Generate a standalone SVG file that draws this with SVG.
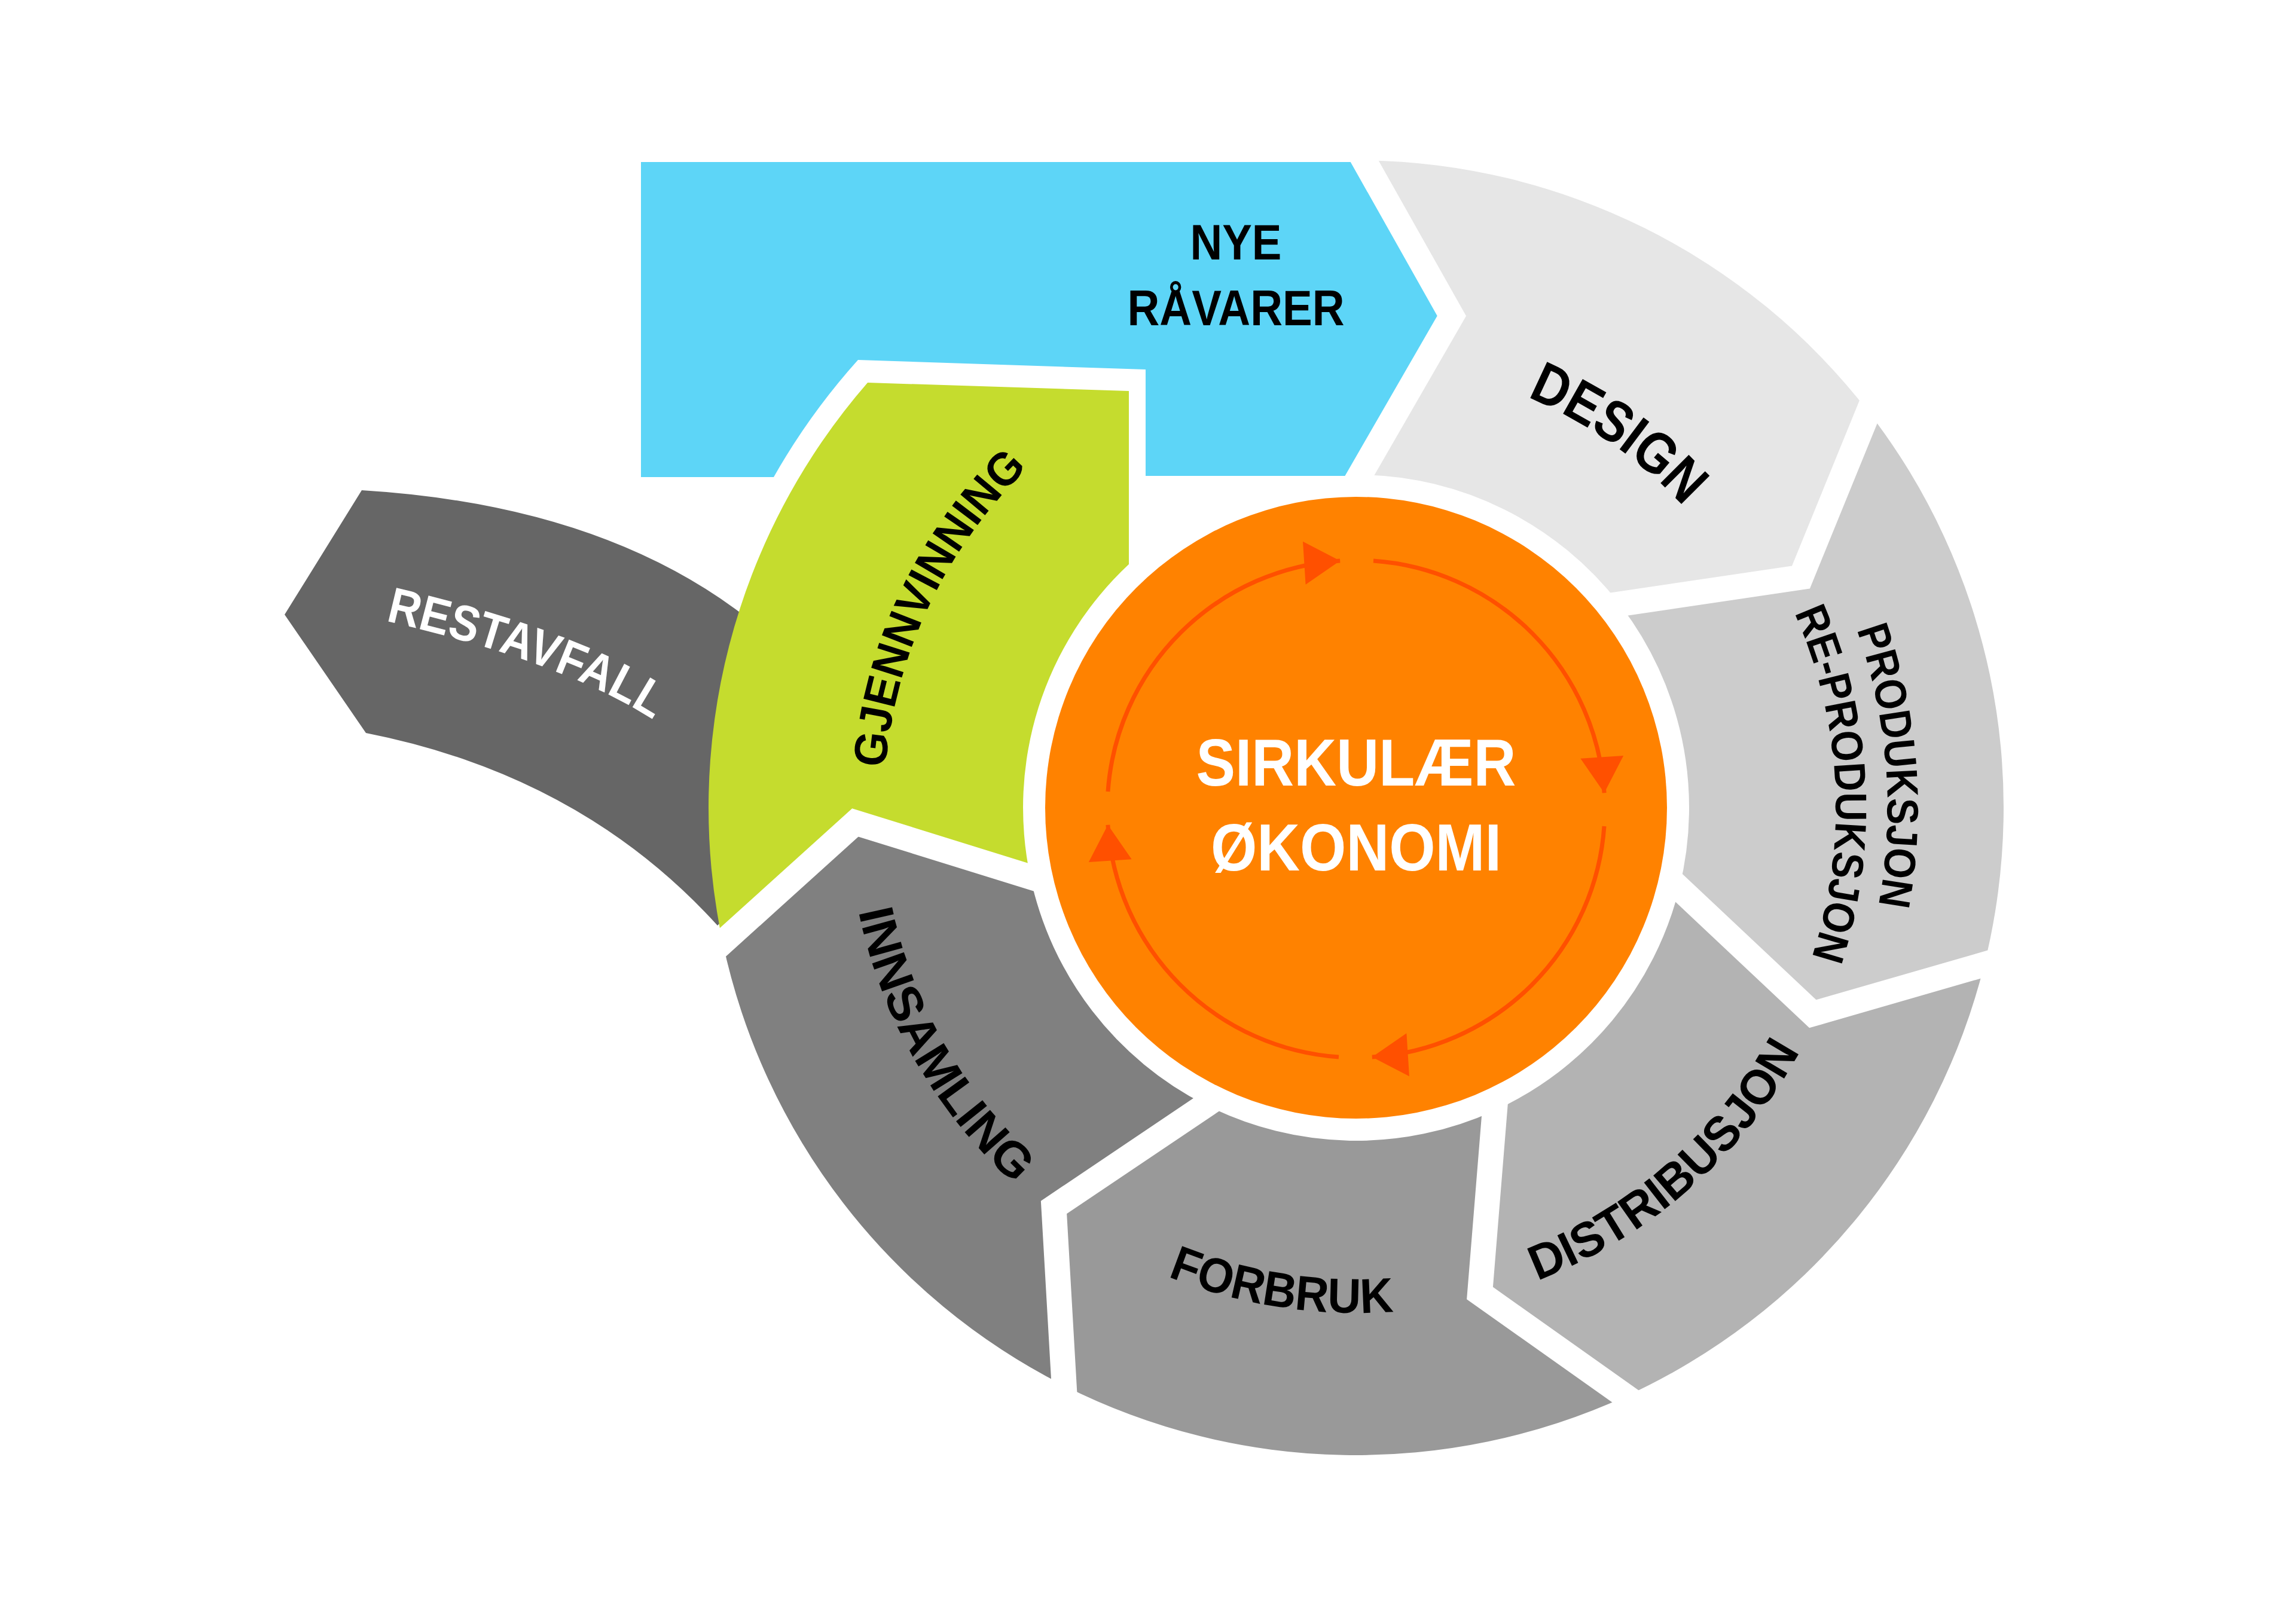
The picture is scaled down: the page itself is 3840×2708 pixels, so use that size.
<svg xmlns="http://www.w3.org/2000/svg" xmlns:xlink="http://www.w3.org/1999/xlink" width="3840" height="2708" viewBox="0 0 3840 2708">
  <style>
    .lbl { font-family: "Liberation Sans", Arial, sans-serif; font-weight: bold; fill: #000; }
    .wht { fill: #fff; }
    .sep { fill: none; stroke: #fff; stroke-width: 42; stroke-linejoin: miter; stroke-miterlimit: 10; }
    .cyc { fill: none; stroke: #FF5000; stroke-width: 7; marker-end: url(#ah); }
  </style>
  <defs>
    <marker id="ah" markerUnits="userSpaceOnUse" markerWidth="200" markerHeight="200" refX="0" refY="0" orient="auto" overflow="visible">
      <path d="M0,0 L-60,-36 L-60,36 Z" fill="#FF5000"/>
    </marker>
    <path id="pDesign" d="M2397.2,618.3 A744,744 0 0 1 2912.3,979"/>
    <path id="pProd" d="M3000.6,847.5 A891,891 0 0 1 3070.4,1733.7"/>
    <path id="pReprod" d="M2941.4,915.4 A800,800 0 0 1 2981.9,1716.3"/>
    <path id="pDist" d="M2431.1,2182.2 A847,847 0 0 0 3069.3,1625.4"/>
    <path id="pForb" d="M1738.5,2009.5 A845,845 0 0 0 2573.6,2138.8"/>
    <path id="pInns" d="M1418,1348 A850,850 0 0 0 1840.4,2085.6"/>
    <path id="pGjen" d="M1489.1,1482.7 A790,790 0 0 1 1877.8,664.1"/>
    <path id="pRest" d="M643,1038 Q943,1107 1094,1205"/>
  </defs>
  <rect width="3840" height="2708" fill="#fff"/>

  <g id="restavfall">
    <path d="M605,820 Q996,844 1237,1024 L1330,1110 L1330,1420 L1200,1548 Q972,1297 612,1226 L476,1028 Z" fill="#666666"/>
  </g>
  <g id="nye-ravarer">
    <path d="M1072,271 L2281.2,271 L2427.9,528.4 L2274.8,796 L1916,796 L1916,618 L1435,602 A1120,1120 0 0 0 1294,798 L1072,798 Z" fill="#5DD5F7"/>
  </g>
  <g id="design">
    <path d="M2274.8,794.0 L2427.9,528.4 L2281.2,268.1 A1083,1083 0 0 1 3124.9,688.7 L3012.0,965.4 L2708.7,1010.4 A557,557 0 0 0 2274.8,794.0 Z" fill="#E6E6E6"/>
  </g>
  <g id="produksjon">
    <path d="M2708.7,1010.4 L3012.0,965.4 L3124.9,688.7 A1083,1083 0 0 1 3318.8,1613.0 L3031.8,1695.8 L2808.5,1485.7 A557,557 0 0 0 2708.7,1010.4 Z" fill="#CCCCCC"/>
  </g>
  <g id="distribusjon">
    <path d="M2808.5,1485.7 L3031.8,1695.8 L3318.8,1613.0 A1083,1083 0 0 1 2718.8,2335.7 L2475.0,2163.0 L2499.9,1857.4 A557,557 0 0 0 2808.5,1485.7 Z" fill="#B3B3B3"/>
  </g>
  <g id="forbruk">
    <path d="M2499.9,1857.4 L2475.0,2163.0 L2718.8,2335.7 A1083,1083 0 0 1 1779.7,2317.7 L1762.5,2019.4 L2016.8,1848.2 A557,557 0 0 0 2499.9,1857.4 Z" fill="#999999"/>
  </g>
  <g id="innsamling">
    <path d="M2016.8,1848.2 L1762.5,2019.4 L1779.7,2317.7 A1083,1083 0 0 1 1208.7,1576.2 L1430.4,1375.9 L1723.2,1466.8 A557,557 0 0 0 2016.8,1848.2 Z" fill="#808080"/>
  </g>
  <g id="gjennvinning">
    <path d="M1723.2,1466.8 L1430.4,1375.9 L1208.7,1576.2 A1083,1083 0 0 1 1451.1,640 L1888,654 L1888,943.8 A557,557 0 0 0 1723.2,1466.8 Z" fill="#C5DC2E"/>
  </g>

  <g id="connectors">
    <polyline class="sep" points="2254.8,828.7 2427.9,528.4 2261.6,233.3"/>
    <polyline class="sep" points="2669.1,1016.3 3012.0,965.4 3140.0,651.7"/>
    <polyline class="sep" points="2779.4,1458.3 3031.8,1695.8 3357.2,1601.9"/>
    <polyline class="sep" points="2503.1,1817.5 2475.0,2163.0 2751.4,2358.8"/>
    <polyline class="sep" points="2050.0,1825.9 1762.5,2019.4 1782.0,2357.6"/>
    <polyline class="sep" points="1761.4,1478.7 1430.4,1375.9 1193.9,1589.6"/>
  </g>

  <g id="sirkulaer-okonomi">
    <circle cx="2268" cy="1351" r="520" fill="#FF8200"/>
    <path class="cyc" d="M1853.0,1324.0 A416,416 0 0 1 2241.2,937.9"/>
    <path class="cyc" d="M2297.0,938.0 A416,416 0 0 1 2683.1,1326.2"/>
    <path class="cyc" d="M2683.0,1382.0 A416,416 0 0 1 2294.8,1768.1"/>
    <path class="cyc" d="M2239.0,1768.0 A416,416 0 0 1 1852.9,1379.8"/>
    <text class="lbl wht" x="2268" y="1314" font-size="112" text-anchor="middle" textLength="535" lengthAdjust="spacingAndGlyphs">SIRKULÆR</text>
    <text class="lbl wht" x="2268" y="1456" font-size="112" text-anchor="middle" textLength="486" lengthAdjust="spacingAndGlyphs">ØKONOMI</text>
  </g>

  <g id="labels">
    <text class="lbl" x="2067" y="434" font-size="84" text-anchor="middle" textLength="153" lengthAdjust="spacingAndGlyphs">NYE</text>
    <text class="lbl" x="2067" y="544" font-size="84" text-anchor="middle" textLength="363" lengthAdjust="spacingAndGlyphs">RÅVARER</text>
    <text class="lbl" font-size="97" text-anchor="middle"><textPath xlink:href="#pDesign" href="#pDesign" startOffset="50%" textLength="322" lengthAdjust="spacingAndGlyphs">DESIGN</textPath></text>
    <text class="lbl" font-size="74" text-anchor="middle"><textPath xlink:href="#pProd" href="#pProd" startOffset="50%" textLength="468" lengthAdjust="spacingAndGlyphs">PRODUKSJON</textPath></text>
    <text class="lbl" font-size="74" text-anchor="middle"><textPath xlink:href="#pReprod" href="#pReprod" startOffset="50%" textLength="590" lengthAdjust="spacingAndGlyphs">RE-PRODUKSJON</textPath></text>
    <text class="lbl" font-size="82" text-anchor="middle"><textPath xlink:href="#pDist" href="#pDist" startOffset="50%" textLength="595" lengthAdjust="spacingAndGlyphs">DISTRIBUSJON</textPath></text>
    <text class="lbl" font-size="82" text-anchor="middle"><textPath xlink:href="#pForb" href="#pForb" startOffset="50%" textLength="386" lengthAdjust="spacingAndGlyphs">FORBRUK</textPath></text>
    <text class="lbl" font-size="82" text-anchor="middle"><textPath xlink:href="#pInns" href="#pInns" startOffset="50%" textLength="535" lengthAdjust="spacingAndGlyphs">INNSAMLING</textPath></text>
    <text class="lbl" font-size="78" text-anchor="middle"><textPath xlink:href="#pGjen" href="#pGjen" startOffset="50%" textLength="568" lengthAdjust="spacingAndGlyphs">GJENNVINNING</textPath></text>
    <text class="lbl wht" font-size="84" text-anchor="middle"><textPath xlink:href="#pRest" href="#pRest" startOffset="50%" textLength="480" lengthAdjust="spacingAndGlyphs">RESTAVFALL</textPath></text>
  </g>
</svg>
